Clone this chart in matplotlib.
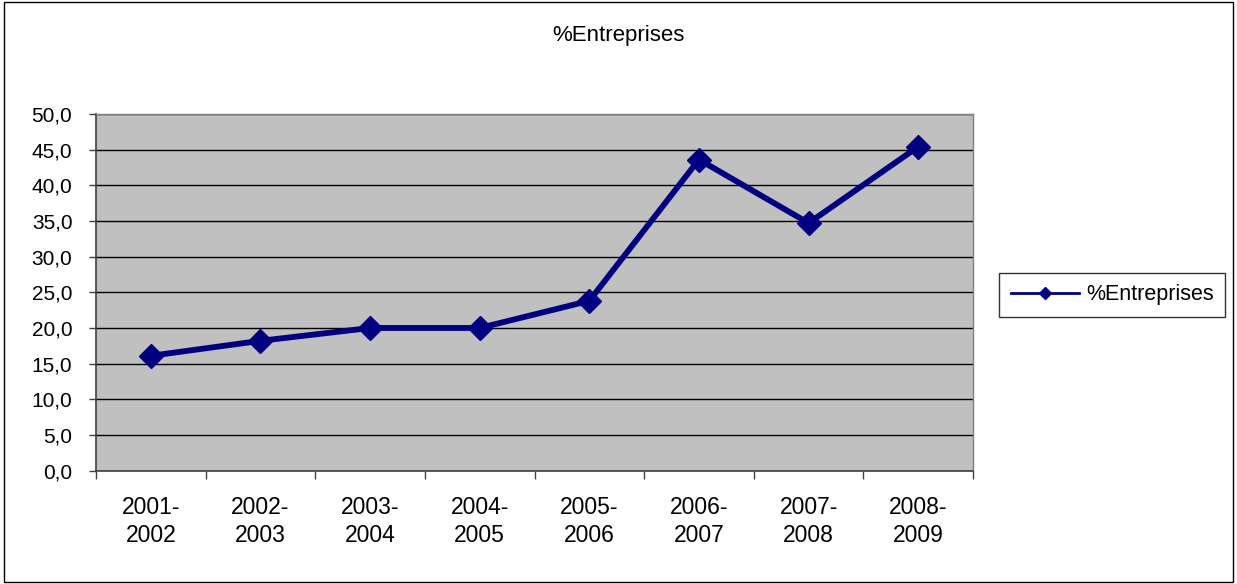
import matplotlib.pyplot as plt
from matplotlib.lines import Line2D
from matplotlib.patches import Rectangle

plt.rcParams["font.family"] = ["Liberation Sans", "DejaVu Sans"]

# ── Data ────────────────────────────────────────────────────────────
periods = ["2001-\n2002", "2002-\n2003", "2003-\n2004", "2004-\n2005",
           "2005-\n2006", "2006-\n2007", "2007-\n2008", "2008-\n2009"]
pct_entreprises = [16.1, 18.2, 20.0, 20.0, 23.8, 43.6, 34.7, 45.4]
y_ticks = [0, 5, 10, 15, 20, 25, 30, 35, 40, 45, 50]

NAVY = "#000080"

fig = plt.figure(figsize=(12.37, 5.84), dpi=100, facecolor="white")
fig.patches.append(Rectangle((0.003, 0.004), 0.994, 0.992, transform=fig.transFigure,
                             fill=False, edgecolor="black", linewidth=1.0))

ax = fig.add_axes([0.0776, 0.194, 0.709, 0.611])
ax.set_facecolor("#c0c0c0")

x = [i + 0.5 for i in range(len(periods))]
ax.plot(x, pct_entreprises, color=NAVY, linewidth=4.2, marker="D",
        markersize=12, markerfacecolor=NAVY, markeredgecolor=NAVY, zorder=3)

ax.set_xlim(0, len(periods))
ax.set_ylim(0, 50)
ax.set_yticks(y_ticks)
ax.set_yticklabels([f"{v:.1f}".replace(".", ",") for v in y_ticks], fontsize=15)
ax.yaxis.grid(True, color="black", linewidth=1.0)
ax.set_axisbelow(True)

ax.set_xticks(range(len(periods) + 1))
ax.set_xticklabels([])
ax.set_xticks(x, minor=True)
ax.set_xticklabels(periods, minor=True, fontsize=16.5, linespacing=1.3)
ax.tick_params(axis="x", which="minor", length=0, pad=18)
ax.tick_params(axis="x", which="major", length=6, width=1, color="#404040")
ax.tick_params(axis="y", length=5, width=1, color="#404040", pad=12)

for side in ["left", "bottom"]:
    ax.spines[side].set_color("#404040")
    ax.spines[side].set_linewidth(1.2)
for side in ["top", "right"]:
    ax.spines[side].set_color("#808080")
    ax.spines[side].set_linewidth(1.0)

fig.text(0.5, 0.94, "%Entreprises", ha="center", va="center", fontsize=16)

handle = Line2D([], [], color=NAVY, linewidth=2, marker="D", markersize=6)
leg = fig.legend([handle], ["%Entreprises"], loc="center",
                 bbox_to_anchor=(0.899, 0.495), fontsize=15.5, frameon=True,
                 fancybox=False, edgecolor="black", handlelength=3.2,
                 borderpad=0.55, handletextpad=0.3)
leg.get_frame().set_linewidth(1.0)

fig.savefig("out.png", dpi=100, facecolor="white")
